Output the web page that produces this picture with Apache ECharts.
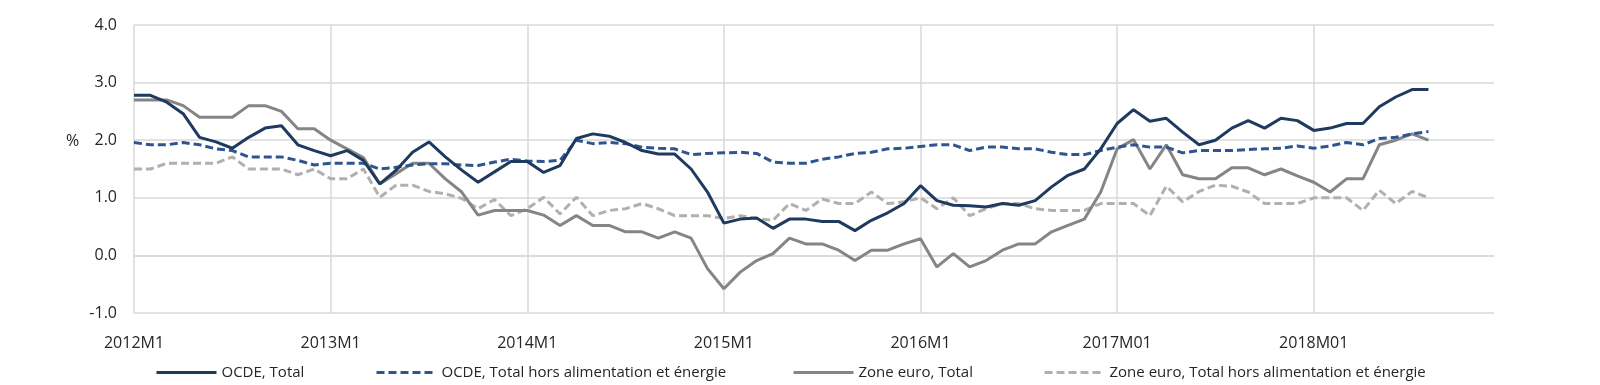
<!DOCTYPE html>
<html>
<head>
<meta charset="utf-8">
<script src="https://cdn.jsdelivr.net/npm/echarts@6/dist/echarts.min.js"></script>
<style>html,body{margin:0;padding:0;background:#fff}#c{width:1600px;height:385px}</style>
</head>
<body>
<div id="c"></div>
<script>
// Years covered by the category axis (monthly, 2012M1 .. 2018M12)
const years = [2012, 2013, 2014, 2015, 2016, 2017, 2018];
const categories = [];
years.forEach(y => { for (let m = 1; m <= 12; m++) categories.push(y >= 2017 ? y + 'M' + String(m).padStart(2, '0') : y + 'M' + m); });

const seriesNames = [
  'OCDE, Total',
  'OCDE, Total hors alimentation et énergie',
  'Zone euro, Total',
  'Zone euro, Total hors alimentation et énergie'
];

const ocdeTotal = [
  2.78, 2.78, 2.66, 2.46, 2.05, 1.97, 1.86, 2.05, 2.21, 2.25, 1.92, 1.82,
  1.73, 1.82, 1.65, 1.24, 1.48, 1.79, 1.97, 1.71, 1.48, 1.27, 1.45, 1.63,
  1.63, 1.44, 1.56, 2.03, 2.11, 2.07, 1.96, 1.82, 1.76, 1.76, 1.50, 1.10,
  0.56, 0.63, 0.65, 0.47, 0.63, 0.63, 0.59, 0.59, 0.43, 0.61, 0.74, 0.90,
  1.21, 0.95, 0.87, 0.86, 0.84, 0.90, 0.87, 0.95, 1.19, 1.39, 1.50, 1.85,
  2.29, 2.53, 2.33, 2.38, 2.14, 1.92, 2.00, 2.21, 2.34, 2.21, 2.38, 2.34,
  2.17, 2.21, 2.29, 2.29, 2.58, 2.75, 2.88, 2.88
];
const ocdeCore = [
  1.96, 1.92, 1.92, 1.96, 1.92, 1.85, 1.82, 1.71, 1.71, 1.71, 1.65, 1.57,
  1.60, 1.60, 1.60, 1.50, 1.53, 1.57, 1.59, 1.59, 1.57, 1.56, 1.62, 1.67,
  1.64, 1.63, 1.65, 2.00, 1.94, 1.96, 1.94, 1.88, 1.86, 1.85, 1.75, 1.77,
  1.78, 1.79, 1.77, 1.62, 1.60, 1.60, 1.67, 1.71, 1.77, 1.79, 1.85, 1.86,
  1.89, 1.92, 1.92, 1.82, 1.88, 1.88, 1.85, 1.85, 1.79, 1.75, 1.75, 1.82,
  1.88, 1.92, 1.88, 1.88, 1.78, 1.82, 1.82, 1.82, 1.84, 1.85, 1.86, 1.90,
  1.86, 1.90, 1.96, 1.92, 2.03, 2.05, 2.11, 2.15
];
const euroTotal = [
  2.7, 2.7, 2.7, 2.6, 2.4, 2.4, 2.4, 2.6, 2.6, 2.5, 2.2, 2.2,
  2.0, 1.85, 1.7, 1.24, 1.42, 1.6, 1.6, 1.33, 1.1, 0.7, 0.78, 0.78,
  0.78, 0.7, 0.52, 0.69, 0.52, 0.52, 0.41, 0.41, 0.3, 0.41, 0.3, -0.23,
  -0.58, -0.29, -0.09, 0.03, 0.3, 0.2, 0.2, 0.09, -0.09, 0.09, 0.09, 0.2,
  0.29, -0.2, 0.03, -0.2, -0.09, 0.09, 0.2, 0.2, 0.41, 0.52, 0.63, 1.1,
  1.85, 2.01, 1.5, 1.92, 1.4, 1.33, 1.33, 1.52, 1.52, 1.4, 1.5, 1.38,
  1.27, 1.1, 1.33, 1.33, 1.92, 2.0, 2.11, 2.0
];
const euroCore = [
  1.5, 1.5, 1.6, 1.6, 1.6, 1.6, 1.71, 1.5, 1.5, 1.5, 1.4, 1.5,
  1.33, 1.33, 1.5, 1.01, 1.22, 1.22, 1.11, 1.07, 0.99, 0.81, 0.97, 0.69,
  0.81, 1.01, 0.72, 1.01, 0.69, 0.78, 0.81, 0.9, 0.81, 0.69, 0.69, 0.69,
  0.64, 0.69, 0.64, 0.61, 0.9, 0.78, 0.98, 0.9, 0.9, 1.1, 0.9, 0.93,
  1.0, 0.81, 1.0, 0.69, 0.81, 0.9, 0.9, 0.81, 0.78, 0.78, 0.78, 0.9,
  0.9, 0.9, 0.69, 1.2, 0.93, 1.11, 1.22, 1.2, 1.1, 0.9, 0.9, 0.9,
  1.0, 1.0, 1.0, 0.78, 1.13, 0.9, 1.11, 1.0
];

const FONT = "'Open Sans', 'Noto Sans', sans-serif";
const TXT = '#262626';
const grid = '#d9d9d9';

const styles = [
  { color: '#1f3a5f', type: 'solid' },
  { color: '#2e5590', type: [8, 4] },
  { color: '#858585', type: 'solid' },
  { color: '#b0b0b0', type: [8, 4] }
];
const dataSets = [ocdeTotal, ocdeCore, euroTotal, euroCore];
const legendLeft = [150, 370, 787, 1038];

const chart = echarts.init(document.getElementById('c'));
chart.setOption({
  animation: false,
  backgroundColor: '#fff',
  grid: { left: 134, right: 106, top: 25, bottom: 72, containLabel: false },
  legend: seriesNames.map((n, i) => ({
    data: [n], left: legendLeft[i], top: 360, itemWidth: 60, itemHeight: 14,
    itemStyle: { opacity: 0 },
    lineStyle: { width: 3 },
    textStyle: { fontFamily: FONT, fontSize: 15, color: TXT }
  })),
  graphic: [{ type: 'text', left: 66, top: 133, style: { text: '%', font: '16px ' + FONT, fill: TXT } }],
  xAxis: {
    type: 'category', data: categories, boundaryGap: false,
    axisLine: { show: true, lineStyle: { color: grid, width: 1.5 } },
    axisTick: { show: false },
    axisLabel: { interval: (i) => i % 12 === 0, fontFamily: FONT, fontSize: 16, color: TXT, margin: 22 },
    splitLine: { show: true, interval: (i) => i % 12 === 0, lineStyle: { color: grid, width: 1.5 } }
  },
  yAxis: {
    type: 'value', min: -1, max: 4, interval: 1,
    axisLine: { show: false }, axisTick: { show: false },
    axisLabel: { formatter: v => v.toFixed(1), fontFamily: FONT, fontSize: 16, color: TXT, margin: 17 },
    splitLine: { show: true, lineStyle: { color: grid, width: 1.5 } }
  },
  series: seriesNames.map((n, i) => ({
    name: n, type: 'line', data: dataSets[i], symbol: 'none', smooth: false,
    color: styles[i].color,
    lineStyle: { color: styles[i].color, width: 3, type: styles[i].type },
    z: 10 - i
  }))
});
</script>
</body>
</html>
